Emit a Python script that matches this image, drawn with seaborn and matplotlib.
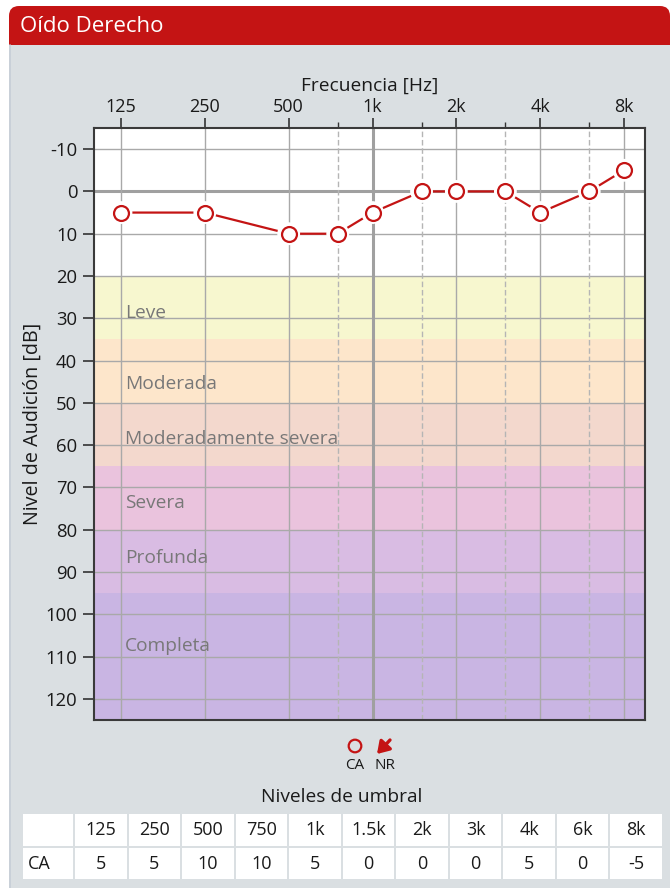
import numpy as np
import pandas as pd
import matplotlib
matplotlib.use("Agg")
import matplotlib.pyplot as plt
import seaborn as sns
from matplotlib.patches import Rectangle, FancyBboxPatch, Circle
from matplotlib.ticker import FixedLocator, NullFormatter

# ---------------- data ----------------
freqs = [125, 250, 500, 750, 1000, 1500, 2000, 3000, 4000, 6000, 8000]
freq_labels = ["125", "250", "500", "750", "1k", "1.5k", "2k", "3k", "4k", "6k", "8k"]
ca_levels = [5, 5, 10, 10, 5, 0, 0, 0, 5, 0, -5]

octave_ticks = [125, 250, 500, 1000, 2000, 4000, 8000]
octave_labels = ["125", "250", "500", "1k", "2k", "4k", "8k"]
half_ticks = [750, 1500, 3000, 6000]
y_ticks = list(range(-10, 121, 10))

band_names = ["Leve", "Moderada", "Moderadamente severa", "Severa", "Profunda", "Completa"]
band_lo = [20, 35, 50, 65, 80, 95]
band_hi = [35, 50, 65, 80, 95, 125]
band_label_y = [28.8, 45.6, 58.6, 73.6, 86.6, 107.6]
band_colors = ["#f7f7cf", "#fde6cb", "#f3d8cd", "#eac3dd", "#d9bce3", "#c9b5e3"]

title_text = "Oído Derecho"
table_title = "Niveles de umbral"
row_label = "CA"

# ---------------- style ----------------
sns.set_style("white")
plt.rcParams["font.family"] = ["Open Sans", "DejaVu Sans"]

RED = "#c41414"
PANEL = "#dadfe2"
TXT = "#1a1a1a"
W, H = 670, 888
fig = plt.figure(figsize=(W / 100, H / 100), dpi=100)
fig.patch.set_facecolor("white")

# overlay axes in pixel coordinates (behind the chart)
ax0 = fig.add_axes([0, 0, 1, 1], zorder=-1)
ax0.set_xlim(0, W)
ax0.set_ylim(H, 0)
ax0.axis("off")

ax0.add_patch(FancyBboxPatch((9, 6), W - 9, 50, boxstyle="round,pad=0,rounding_size=10",
                             facecolor=RED, edgecolor="none"))
ax0.add_patch(Rectangle((9, 45), W - 9, H - 45, facecolor=PANEL, edgecolor="none"))
ax0.plot([9.5, 9.5], [45, H], color="#c6ced6", lw=1.2)
ax0.text(20, 26, title_text, color="white", fontsize=16, va="center", ha="left")

# ---------------- chart ----------------
ax = fig.add_axes([94 / W, 1 - 720 / H, (645 - 94) / W, (720 - 128) / H])
ax.set_facecolor("white")

for lo, hi, c in zip(band_lo, band_hi, band_colors):
    ax.axhspan(lo, hi, facecolor=c, edgecolor="none", zorder=0)

for yv in y_ticks:
    ax.axhline(yv, color="#a9a9a9", lw=1.0, zorder=1)
ax.axhline(0, color="#a0a0a0", lw=2.2, zorder=1)
for xv in octave_ticks:
    ax.axvline(xv, color="#a9a9a9", lw=1.0, zorder=1)
ax.axvline(1000, color="#a0a0a0", lw=2.2, zorder=1)
for xv in half_ticks:
    ax.axvline(xv, color="#b5b5b5", lw=1.0, ls=(0, (4, 2)), zorder=1)

for name, yv in zip(band_names, band_label_y):
    ax.text(129.5, yv, name, color="#787878", fontsize=13.8, va="center", ha="left", zorder=2)

df = pd.DataFrame({"freq": freqs, "level": ca_levels})
sns.lineplot(data=df, x="freq", y="level", color=RED, lw=1.6, ax=ax, zorder=3,
             estimator=None, sort=False)
sns.scatterplot(data=df, x="freq", y="level", s=270, color="white", edgecolor="none",
                ax=ax, zorder=4)
sns.scatterplot(data=df, x="freq", y="level", s=115, facecolor="white", edgecolor=RED,
                linewidth=1.6, ax=ax, zorder=5)

ax.set_xscale("log", base=2)
ax.set_xlim(100, 9514)
ax.set_ylim(125, -15)

ax.xaxis.tick_top()
ax.xaxis.set_label_position("top")
ax.xaxis.set_major_locator(FixedLocator(octave_ticks))
ax.set_xticks(octave_ticks)
ax.set_xticklabels(octave_labels)
ax.xaxis.set_minor_locator(FixedLocator(half_ticks))
ax.xaxis.set_minor_formatter(NullFormatter())
ax.set_yticks(y_ticks)
ax.set_yticklabels([str(v) for v in y_ticks])

ax.tick_params(axis="x", which="major", direction="out", length=7, width=1.2,
               color="#333333", labelsize=13, pad=2, top=True, bottom=False,
               labelcolor=TXT)
ax.tick_params(axis="x", which="minor", direction="out", length=4, width=1.0,
               color="#333333", top=True, bottom=False)
ax.tick_params(axis="y", direction="out", length=8, width=1.2, color="#333333",
               labelsize=13.3, pad=4, left=True, labelcolor=TXT)

ax.set_xlabel("Frecuencia [Hz]", fontsize=13.8, labelpad=5, color=TXT)
ax.set_ylabel("Nivel de Audición [dB]", fontsize=14.2, labelpad=2, color=TXT)

for sp in ax.spines.values():
    sp.set_visible(True)
    sp.set_color("#3a3a3a")
    sp.set_linewidth(1.5)
    sp.set_zorder(6)

# ---------------- legend ----------------
ax0.add_patch(Circle((355, 746), 6.3, facecolor="none", edgecolor=RED, lw=1.6))
ax0.annotate("", xy=(377, 754), xytext=(390, 740),
             arrowprops=dict(arrowstyle="-|>,head_length=0.7,head_width=0.45",
                             color=RED, lw=2.4, shrinkA=0, shrinkB=0))
ax0.text(355, 765, "CA", fontsize=11, ha="center", va="center", color=TXT)
ax0.text(385, 765, "NR", fontsize=11, ha="center", va="center", color=TXT)

# ---------------- table ----------------
ax0.text(342, 797, table_title, fontsize=13.8, ha="center", va="center", color=TXT)
tab_left, first_w, tab_right = 22, 52, 663
col_w = (tab_right - tab_left - first_w) / len(freq_labels)
rows = [(813, 847), (847, 880)]
col_edges = [tab_left, tab_left + first_w] + [tab_left + first_w + (i + 1) * col_w
                                               for i in range(len(freq_labels))]
for (y0, y1) in rows:
    for i in range(len(col_edges) - 1):
        x0, x1 = col_edges[i], col_edges[i + 1]
        ax0.add_patch(Rectangle((x0 + 1, y0 + 1), x1 - x0 - 2, y1 - y0 - 2,
                                facecolor="white", edgecolor="none"))
ycen = [(r[0] + r[1]) / 2 for r in rows]
ax0.text(28, ycen[1], row_label, fontsize=13, ha="left", va="center", color=TXT)
for i, (lab, val) in enumerate(zip(freq_labels, ca_levels)):
    xc = (col_edges[i + 1] + col_edges[i + 2]) / 2
    ax0.text(xc, ycen[0], lab, fontsize=13, ha="center", va="center", color=TXT)
    ax0.text(xc, ycen[1], str(val), fontsize=13, ha="center", va="center", color=TXT)

fig.savefig("out.png", dpi=100, facecolor="white")
